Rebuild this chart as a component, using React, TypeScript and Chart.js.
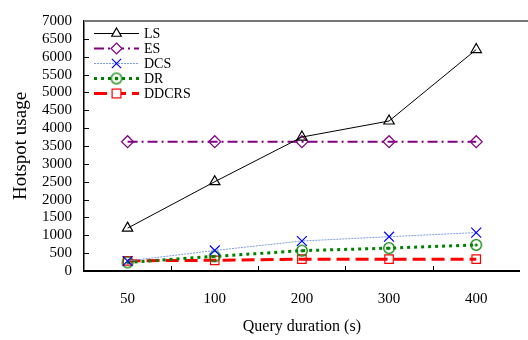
import React, { useEffect, useRef } from "react";
import { Chart, registerables } from "chart.js";

Chart.register(...registerables);

const categories = ["50", "100", "200", "300", "400"];
const seriesNames = ["LS", "ES", "DCS", "DR", "DDCRS"];
const lsValues = [1200, 2500, 3750, 4200, 6200];
const esValues = [3620, 3620, 3620, 3620, 3620];
const dcsValues = [280, 575, 840, 960, 1075];
const drValues = [240, 410, 570, 640, 730];
const ddcrsValues = [285, 300, 330, 330, 330];

const FONT = "'Liberation Serif', 'Times New Roman', serif";

function makeCircleDot(color: string) {
  const c = document.createElement("canvas");
  c.width = 14;
  c.height = 14;
  const ctx = c.getContext("2d")!;
  ctx.strokeStyle = color;
  ctx.lineWidth = 1.3;
  ctx.beginPath();
  ctx.arc(7, 7, 5.3, 0, Math.PI * 2);
  ctx.stroke();
  ctx.fillStyle = color;
  ctx.beginPath();
  ctx.arc(7, 7, 1.6, 0, Math.PI * 2);
  ctx.fill();
  return c;
}

export default function App() {
  const ref = useRef<HTMLCanvasElement | null>(null);

  useEffect(() => {
    const canvas = ref.current!;
    const drDot = makeCircleDot("#008000");

    const styles = [
      { color: "#000000", line: "#000000", width: 1, dash: [] as number[], point: "triangle" as any, radius: 6 },
      { color: "#800080", line: "#800080", width: 2, dash: [10, 4, 2, 4], point: "rectRot" as any, radius: 6 },
      { color: "#0000ff", line: "#7d9ce0", width: 1, dash: [2, 1], point: "crossRot" as any, radius: 7 },
      { color: "#008000", line: "#008000", width: 3, dash: [3, 4], point: drDot as any, radius: 6 },
      { color: "#ff0000", line: "#ff0000", width: 3, dash: [13, 6], point: "rect" as any, radius: 6 },
    ];
    const values = [lsValues, esValues, dcsValues, drValues, ddcrsValues];

    const datasets = seriesNames.map((name, i) => ({
      label: name,
      data: values[i],
      borderColor: styles[i].line,
      borderWidth: styles[i].width,
      borderDash: styles[i].dash,
      pointStyle: styles[i].point,
      pointRadius: styles[i].radius,
      pointBorderColor: styles[i].color,
      pointBackgroundColor: "rgba(0,0,0,0)",
      pointBorderWidth: 1.2,
      tension: 0,
      fill: false,
    }));

    const decor = {
      id: "decor",
      afterDatasetsDraw(chart: any) {
        const { ctx, chartArea } = chart;
        const { left, top, bottom } = chartArea;
        ctx.save();
        // top grey line
        ctx.strokeStyle = "#777777";
        ctx.lineWidth = 2;
        ctx.beginPath();
        ctx.moveTo(left, top);
        ctx.lineTo(528, top);
        ctx.stroke();
        // y ticks inward
        const ys = chart.scales.y;
        ctx.strokeStyle = "#000";
        ctx.lineWidth = 1;
        for (let v = 500; v < 7000; v += 500) {
          const y = Math.round(ys.getPixelForValue(v)) + 0.5;
          ctx.beginPath();
          ctx.moveTo(left, y);
          ctx.lineTo(left + 5, y);
          ctx.stroke();
        }
        // x ticks at category boundaries
        const xs = chart.scales.x;
        for (let i = 0; i < categories.length - 1; i++) {
          const x = Math.round((xs.getPixelForValue(i) + xs.getPixelForValue(i + 1)) / 2) + 0.5;
          ctx.beginPath();
          ctx.moveTo(x, bottom);
          ctx.lineTo(x, bottom - 5);
          ctx.stroke();
        }
        // legend
        const x0 = 94, x1 = 139, xm = 116.5, tx = 144;
        ctx.font = "14px " + FONT;
        ctx.textBaseline = "middle";
        ctx.textAlign = "left";
        seriesNames.forEach((name, i) => {
          const y = 33.5 + i * 15;
          const s = styles[i];
          ctx.save();
          ctx.strokeStyle = s.line;
          ctx.lineWidth = s.width;
          ctx.setLineDash(s.dash);
          ctx.beginPath();
          ctx.moveTo(x0, y);
          ctx.lineTo(x1, y);
          ctx.stroke();
          ctx.restore();
          ctx.save();
          ctx.strokeStyle = s.color;
          ctx.lineWidth = 1.2;
          ctx.setLineDash([]);
          const r = s.radius - 0.5;
          if (typeof s.point !== "string") {
            ctx.drawImage(s.point, xm - 7, y - 7);
          } else if (s.point === "triangle") {
            ctx.fillStyle = "#fff";
            ctx.beginPath();
            ctx.moveTo(xm, y - r);
            ctx.lineTo(xm + r * 0.866, y + r * 0.5);
            ctx.lineTo(xm - r * 0.866, y + r * 0.5);
            ctx.closePath();
            ctx.fill();
            ctx.stroke();
          } else if (s.point === "rectRot") {
            ctx.fillStyle = "#fff";
            ctx.beginPath();
            ctx.moveTo(xm, y - r);
            ctx.lineTo(xm + r, y);
            ctx.lineTo(xm, y + r);
            ctx.lineTo(xm - r, y);
            ctx.closePath();
            ctx.fill();
            ctx.stroke();
          } else if (s.point === "crossRot") {
            const d = r * 0.707;
            ctx.beginPath();
            ctx.moveTo(xm - d, y - d);
            ctx.lineTo(xm + d, y + d);
            ctx.moveTo(xm + d, y - d);
            ctx.lineTo(xm - d, y + d);
            ctx.stroke();
          } else if (s.point === "rect") {
            ctx.fillStyle = "#fff";
            const h = r * 0.8;
            ctx.fillRect(xm - h, y - h, 2 * h, 2 * h);
            ctx.strokeRect(xm - h, y - h, 2 * h, 2 * h);
          }
          ctx.restore();
          ctx.fillStyle = "#000";
          ctx.fillText(name, tx, y + 1);
        });
        ctx.restore();
      },
    };

    const chart = new Chart(canvas, {
      type: "line",
      data: { labels: categories, datasets },
      options: {
        animation: false,
        responsive: true,
        maintainAspectRatio: false,
        layout: { padding: { top: 13, right: 2, left: 0, bottom: 0 } },
        plugins: { legend: { display: false }, tooltip: { enabled: false } },
        scales: {
          x: {
            type: "category",
            offset: true,
            grid: { display: false, drawTicks: false },
            border: { display: true, color: "#000", width: 2 },
            ticks: { color: "#000", font: { family: FONT, size: 15 }, padding: 19, maxRotation: 0 },
            title: { display: true, text: "Query duration (s)", color: "#000", font: { family: FONT, size: 16 }, padding: { top: 4, bottom: 4 } },
            afterFit: (s: any) => { s.height = 69; },
          },
          y: {
            min: 0,
            max: 7000,
            ticks: { stepSize: 500, autoSkip: false, color: "#000", font: { family: FONT, size: 15 }, padding: 12, callback: (v: any) => String(v) },
            grid: { display: false, drawTicks: false },
            border: { display: true, color: "#000", width: 1.5 },
            title: { display: true, text: "Hotspot usage", color: "#000", font: { family: FONT, size: 19 }, padding: { top: 10, bottom: 4 } },
            afterFit: (s: any) => { s.width = 84; },
          },
        },
      },
      plugins: [decor],
    });
    return () => chart.destroy();
  }, []);

  return (
    <div style={{ position: "fixed", left: 0, top: 0, width: 528, height: 340, background: "#fff" }}>
      <canvas ref={ref} />
    </div>
  );
}
